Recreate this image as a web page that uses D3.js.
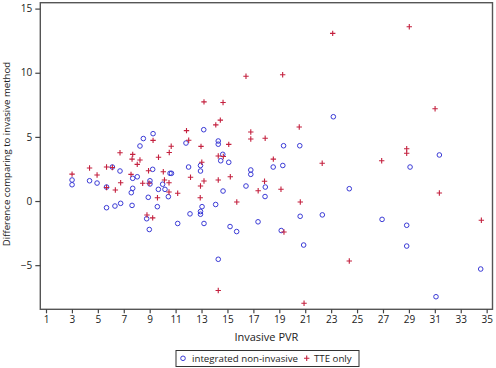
<!DOCTYPE html>
<html><head><meta charset="utf-8">
<script src="https://cdn.jsdelivr.net/npm/d3@7"></script>
<style>body{margin:0;background:#fff}svg{display:block}text{font-family:"Open Sans",sans-serif;fill:#222}</style>
</head><body>
<svg id="c" width="496" height="368"></svg>
<script>
// integrated non-invasive (circles): [invasive PVR, difference]
const integratedX = [3.01,3.01,4.36,4.94,5.67,6.12,6.71,5.67,6.32,6.76,7.64,7.69,8.04,7.69,7.58,8.25,8.51,9.26,9.23,9.02,9.02,8.89,9.59,8.77,8.97,9.67,10.18,10.44,10.00,10.57,10.68,11.16,12.11,12.00,11.80,13.17,12.92,12.92,13.04,12.92,12.92,13.19,14.09,14.29,14.29,14.29,14.64,14.48,15.10,14.66,15.20,15.71,16.43,16.80,16.80,17.36,17.92,17.90,18.53,19.33,19.27,20.58,19.15,20.61,20.88,22.32,23.17,24.40,26.93,28.83,28.83,29.09,31.35,31.09,34.54];
const integratedY = [1.64,1.27,1.58,1.40,1.09,2.65,2.34,-0.52,-0.39,-0.18,-0.34,1.77,1.89,0.99,0.65,4.29,4.87,5.25,2.47,1.58,1.33,0.29,-0.44,-1.38,-2.22,0.91,0.91,0.34,1.31,2.16,2.16,-1.75,-1.00,2.65,4.52,5.56,2.77,2.34,-0.44,-0.82,-1.03,-1.75,-0.27,-4.54,4.68,4.43,3.64,3.14,3.02,0.78,-1.99,-2.38,1.17,2.42,2.08,-1.62,1.09,0.35,2.65,4.31,2.77,4.31,-2.30,-1.19,-3.43,-1.08,6.57,0.96,-1.43,-1.89,-3.51,2.65,3.59,-7.46,-5.30];
// TTE only (plus signs)
const tteX = [3.01,4.36,4.94,5.67,5.67,6.12,6.71,6.35,6.76,7.69,7.64,8.04,8.25,7.56,9.26,9.68,8.91,8.95,8.46,9.60,8.79,9.23,10.05,10.14,10.49,10.49,11.16,10.51,10.66,11.84,12.01,13.19,14.66,14.45,14.10,12.96,13.02,12.15,13.19,12.92,12.90,14.29,14.29,14.68,15.10,15.22,15.72,14.29,16.43,19.26,20.54,16.80,16.80,17.91,18.54,22.31,17.86,17.37,19.13,20.62,19.36,20.91,23.12,29.03,31.02,26.90,28.83,28.83,31.35,24.40,34.59];
const tteY = [2.10,2.57,2.03,2.65,1.05,2.61,3.76,0.86,1.43,3.64,3.27,2.86,3.20,2.08,4.73,3.41,2.36,1.38,1.38,0.26,-1.09,-1.31,2.28,1.64,1.43,0.70,0.61,3.78,4.27,5.49,4.74,7.73,7.68,6.31,5.94,4.26,3.02,1.85,1.56,1.17,0.25,1.64,3.51,3.47,4.42,1.89,-0.08,-6.98,9.73,9.84,5.77,5.38,4.83,4.89,3.27,2.95,1.54,0.80,0.92,-0.08,-2.42,-7.97,13.07,13.59,7.19,3.14,4.08,3.72,0.62,-4.68,-1.50];
const xTicks = [1,3,5,7,9,11,13,15,17,19,21,23,25,27,29,31,33,35];
const yTicks = [-5,0,5,10,15];
const seriesNames = ["integrated non-invasive","TTE only"];
const xTitle = "Invasive PVR";
const yTitle = "Difference comparing to invasive method";

const svg = d3.select("#c");
const L=40.3,R=492.5,T=2.7,B=309.3;
const x = d3.scaleLinear().domain([0.56,35.45]).range([L,R]);
const y = d3.scaleLinear().domain([-8.44,15.46]).range([B,T]);
const blue="#3b3bd6", red="#c4203e";
const plusPath = "M-2.7,0H2.7M0,-2.7V2.7";

svg.append("rect").attr("x",L).attr("y",T).attr("width",R-L).attr("height",B-T)
  .attr("fill","none").attr("stroke","#555").attr("stroke-width",1.4);

const gx = svg.append("g").attr("transform",`translate(0,${B})`)
  .call(d3.axisBottom(x).tickValues(xTicks).tickSize(4).tickSizeOuter(0).tickPadding(3));
const gy = svg.append("g").attr("transform",`translate(${L},0)`)
  .call(d3.axisLeft(y).tickValues(yTicks).tickSize(5).tickSizeOuter(0).tickPadding(3));
[gx,gy].forEach(g=>{
  g.select(".domain").remove();
  g.selectAll(".tick line").attr("stroke","#444").attr("stroke-width",1.2);
  g.selectAll(".tick text").attr("font-size",10).attr("font-family","'Open Sans',sans-serif").attr("fill","#222");
});

svg.append("g").selectAll("circle").data(integratedX.map((v,i)=>[v,integratedY[i]])).join("circle")
  .attr("cx",d=>x(d[0])).attr("cy",d=>y(d[1])).attr("r",2.3)
  .attr("fill","none").attr("stroke",blue).attr("stroke-width",1);

svg.append("g").selectAll("path").data(tteX.map((v,i)=>[v,tteY[i]])).join("path")
  .attr("transform",d=>`translate(${x(d[0])},${y(d[1])})`)
  .attr("d",plusPath)
  .attr("stroke",red).attr("stroke-width",1.1).attr("fill","none");

svg.append("text").attr("x",(L+R)/2).attr("y",341).attr("text-anchor","middle")
  .attr("font-size",11).text(xTitle);
svg.append("text").attr("transform",`translate(10.3,154) rotate(-90)`).attr("text-anchor","middle")
  .attr("font-size",9.6).text(yTitle);

// legend
const lg = svg.append("g");
lg.append("rect").attr("x",176).attr("y",350.5).attr("width",183).attr("height",16)
  .attr("fill","#fff").attr("stroke","#333").attr("stroke-width",1);
lg.append("circle").attr("cx",183).attr("cy",358.3).attr("r",2.3).attr("fill","none").attr("stroke",blue);
lg.append("text").attr("x",192).attr("y",361.8).attr("font-size",9.7).text(seriesNames[0]);
lg.append("path").attr("transform","translate(306.7,358.3)").attr("d",plusPath).attr("stroke",red).attr("stroke-width",1.1);
lg.append("text").attr("x",314).attr("y",361.8).attr("font-size",9.7).text(seriesNames[1]);
</script>
</body></html>
